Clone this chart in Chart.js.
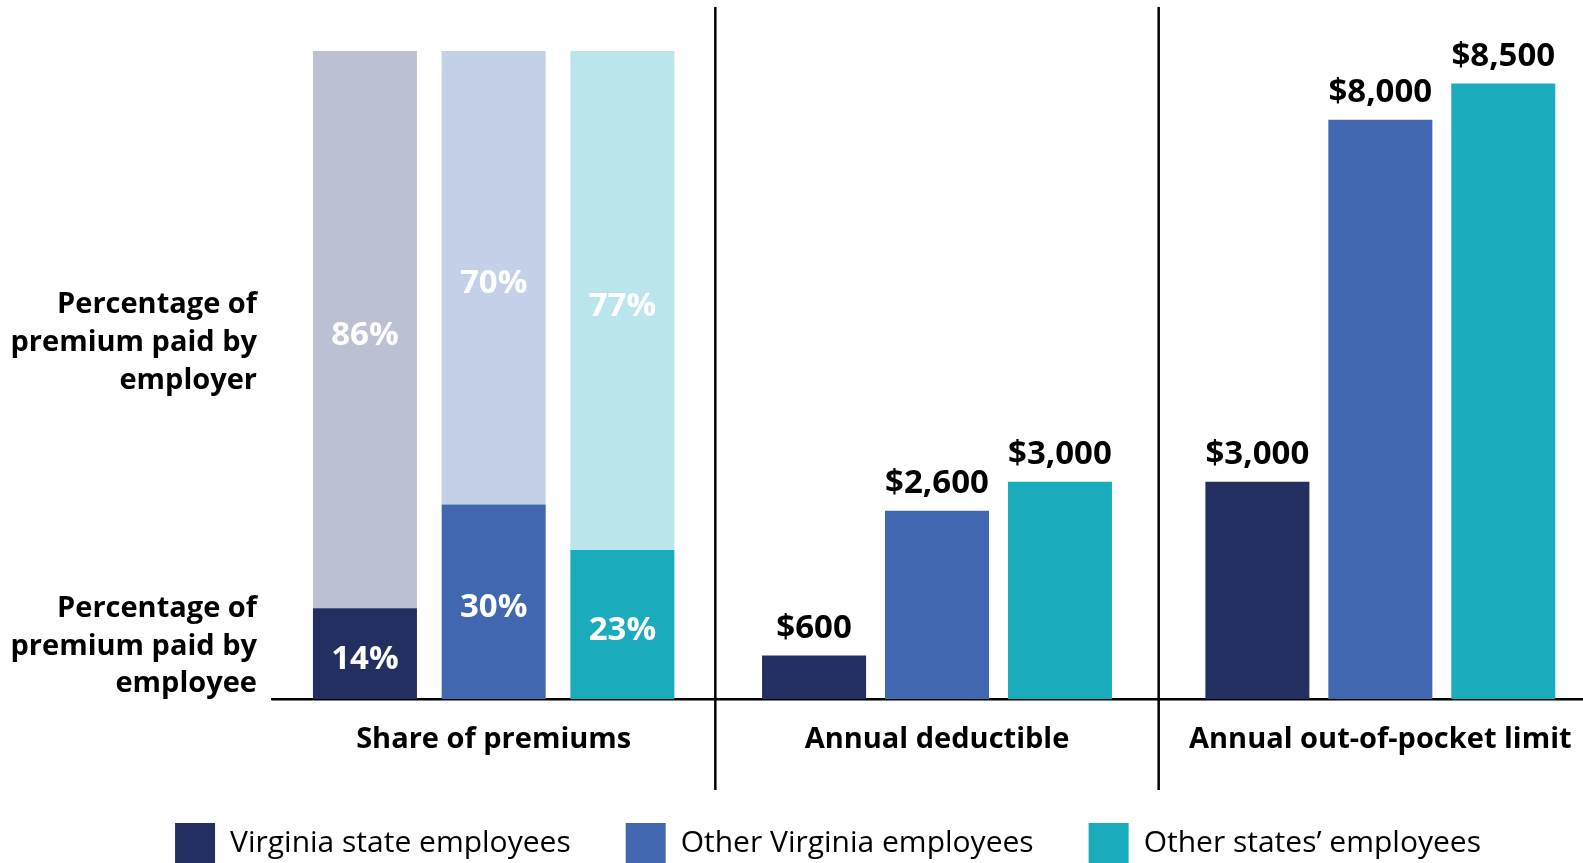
<!DOCTYPE html>
<html>
<head>
<meta charset="utf-8">
<script src="https://cdn.jsdelivr.net/npm/chart.js@4"></script>
<style>
  html, body { margin: 0; padding: 0; background: #fff; overflow: hidden; }
  #wrap { width: 1602px; height: 873px; }
</style>
</head>
<body>
<div id="wrap"><canvas id="chart"></canvas></div>
<script>
// data
const categories = ['Share of premiums', 'Annual deductible', 'Annual out-of-pocket limit'];
const seriesNames = ['Virginia state employees', 'Other Virginia employees', 'Other states\u2019 employees'];
const employeeShare = [14, 30, 23];   // % of premium paid by employee
const employerShare = [86, 70, 77];   // % of premium paid by employer
const deductible = [600, 2600, 3000];
const outOfPocket = [3000, 8000, 8500];
const sideLabels = [['Percentage of', 'premium paid by', 'employee'], ['Percentage of', 'premium paid by', 'employer']];
const sideLabelAt = [8.1, 55];

const dark = ['#232f61', '#4167b1', '#1aabbd'];
const light = ['#bcc0d3', '#c4d0e8', '#bae5eb'];
const stacks = ['va', 'ova', 'os'];
const FONT = "'Open Sans', sans-serif";
const LEGEND_PAD = 55;

const datasets = [];
seriesNames.forEach((name, i) => {
    const common = { stack: stacks[i], yAxisID: 'yPct', kind: 'pct', categoryPercentage: 0.871, barPercentage: 0.808 };
    datasets.push({ ...common, label: name + ' (employee)', data: [employeeShare[i], null, null], backgroundColor: dark[i] });
    datasets.push({ ...common, label: name + ' (employer)', data: [employerShare[i], null, null], backgroundColor: light[i] });
});
seriesNames.forEach((name, i) => {
    datasets.push({ label: name, stack: stacks[i], yAxisID: 'yUsd', kind: 'usd', categoryPercentage: 0.832, barPercentage: 0.846,
        data: [null, deductible[i], outOfPocket[i]], backgroundColor: dark[i] });
});

// panel dividers + value labels, and nudge the legend a bit right like the original
const extras = {
    id: 'extras',
    afterLayout(chart) {
        chart.legend.left += 27;
        chart.legend.right += 27;
    },
    afterDatasetsDraw(chart) {
        const ctx = chart.ctx, x = chart.scales.x;
        ctx.save();
        ctx.strokeStyle = '#000';
        ctx.lineWidth = 2.5;
        for (let i = 0; i < categories.length - 1; i++) {
            const px = (x.getPixelForValue(i) + x.getPixelForValue(i + 1)) / 2;
            ctx.beginPath(); ctx.moveTo(px, 7); ctx.lineTo(px, 790); ctx.stroke();
        }
        ctx.font = `bold 33px ${FONT}`;
        ctx.textAlign = 'center';
        chart.data.datasets.forEach((ds, di) => {
            chart.getDatasetMeta(di).data.forEach((bar, i) => {
                const v = ds.data[i];
                if (v == null) return;
                if (ds.kind === 'pct') {
                    ctx.fillStyle = '#fff';
                    ctx.textBaseline = 'middle';
                    ctx.fillText(v + '%', bar.x, (bar.y + bar.base) / 2 + 6);
                } else {
                    ctx.fillStyle = '#000';
                    ctx.textBaseline = 'alphabetic';
                    ctx.fillText('$' + v.toLocaleString('en-US'), bar.x, bar.y - 18);
                }
            });
        });
        ctx.restore();
    }
};

new Chart(document.getElementById('chart'), {
    type: 'bar',
    data: { labels: categories, datasets },
    plugins: [extras],
    options: {
        responsive: true,
        maintainAspectRatio: false,
        animation: false,
        layout: { padding: { top: 51, left: 0, right: 0, bottom: 0 } },
        scales: {
            x: {
                grid: { display: false, drawTicks: false, tickLength: 0 },
                border: { color: '#000', width: 2.5 },
                ticks: { color: '#000', font: { family: FONT, size: 29, weight: 'bold' }, padding: 23, maxRotation: 0, autoSkip: false },
                afterFit(s) { s.height = 124 - LEGEND_PAD; }
            },
            yPct: {
                position: 'left', stacked: true, min: 0, max: 100,
                grid: { display: false, drawTicks: false, tickLength: 0 },
                border: { display: false },
                afterBuildTicks(s) { s.ticks = sideLabelAt.map(v => ({ value: v })); },
                ticks: { color: '#000', font: { family: FONT, size: 29, weight: 'bold', lineHeight: 1.3 }, padding: 15,
                    callback: (v, i) => sideLabels[i] },
                afterFit(s) { s.width = 272; s.paddingTop = 0; s.paddingBottom = 0; }
            },
            yUsd: { display: false, position: 'right', stacked: true, min: 0, max: 8950 }
        },
        plugins: {
            tooltip: { enabled: false },
            legend: {
                position: 'bottom',
                labels: {
                    boxWidth: 40, boxHeight: 40, padding: LEGEND_PAD, color: '#111',
                    font: { family: FONT, size: 30 },
                    generateLabels: () => seriesNames.map((n, i) => ({
                        text: n, fillStyle: dark[i], strokeStyle: dark[i], lineWidth: 0, hidden: false, datasetIndex: 6 + i
                    }))
                }
            }
        }
    }
});
</script>
</body>
</html>
